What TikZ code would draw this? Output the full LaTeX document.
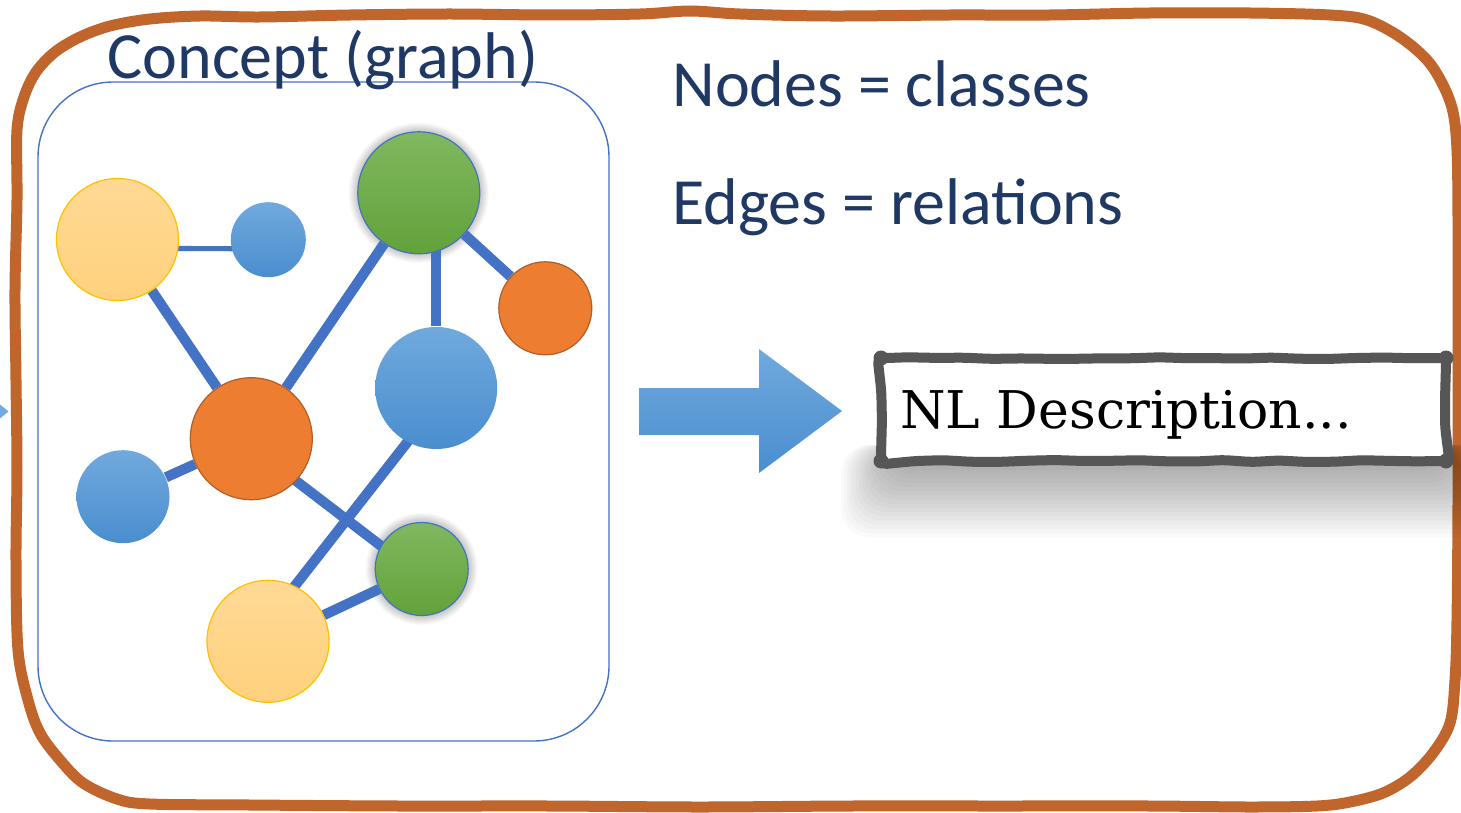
\documentclass[tikz,border=0pt]{standalone}
\usepackage{fontspec}
\usetikzlibrary{calc,decorations.pathmorphing}
\newfontfamily\labelfont{Carlito}
\newfontfamily\notefont{DejaVu Serif}

\definecolor{frameBrown}{HTML}{C0652B}
\definecolor{inkNavy}{HTML}{1F3864}
\definecolor{edgeBlue}{HTML}{4472C4}
\definecolor{blueTop}{HTML}{70A9DD}
\definecolor{blueBot}{HTML}{4A8ECF}
\definecolor{greenTop}{HTML}{80B85F}
\definecolor{greenBot}{HTML}{62A23A}
\definecolor{orangeFill}{HTML}{ED7D31}
\definecolor{orangeLine}{HTML}{B35E24}
\definecolor{yellowTop}{HTML}{FFD995}
\definecolor{yellowBot}{HTML}{FFD17D}
\definecolor{yellowLine}{HTML}{FFC000}
\definecolor{boxGray}{HTML}{565656}

\pgfdeclarelayer{canvas}
\pgfdeclarelayer{background}
\pgfsetlayers{canvas,background,main}

\tikzset{
  vtx/.style={circle, inner sep=0pt, line width=0.6pt},
  bigv/.style={minimum size=61pt},
  midv/.style={minimum size=46.5pt},
  smallv/.style={minimum size=37.5pt},
  yellowv/.style={vtx, draw=yellowLine, top color=yellowTop, bottom color=yellowBot},
  bluev/.style={vtx, top color=blueTop, bottom color=blueBot},
  greenv/.style={vtx, draw=edgeBlue, top color=greenTop, bottom color=greenBot},
  orangev/.style={vtx, draw=orangeLine, fill=orangeFill},
  link/.style={draw=edgeBlue, line width=5.1pt},
  thinlink/.style={draw=edgeBlue, line width=2.6pt},
  heading/.style={anchor=base west, inner sep=0pt, text=inkNavy,
    font=\labelfont\fontsize{33}{40}\selectfont},
  nlbox/.style={draw=boxGray, fill=white, line width=5pt, line join=round,
    minimum width=282.5pt, minimum height=51.5pt, inner sep=0pt,
    rounded corners=3pt, decorate,
    decoration={random steps, segment length=14pt, amplitude=0.5pt}},
  nltext/.style={anchor=base west, inner sep=0pt, text=black,
    font=\notefont\fontsize{26}{30}\selectfont}
}

\begin{document}
\begin{tikzpicture}[x=0.5pt, y=-0.5pt]
\pgfmathsetseed{7}
\useasboundingbox (0,0) rectangle (1461,813);
\begin{pgfonlayer}{canvas}
  \fill[white] (0,0) rectangle (1461,813);
\end{pgfonlayer}
\clip (0,0) rectangle (1461,813);

% hand-drawn outer frame
\draw[frameBrown, line width=5.5pt, line join=round]
  plot[smooth cycle, tension=0.55] coordinates {
   (17,200) (17,130) (24,97) (36,72) (55,52) (80,37) (110,26) (150,19) (200,16) (260,17)
   (350,15) (450,14) (550,15) (640,14) (690,11) (740,14) (830,16) (950,15) (1050,15)
   (1150,13) (1250,13) (1330,15)
   (1367,20) (1400,37) (1427,60) (1443,85) (1453,112) (1457,150) (1458,220)
   (1458,350) (1458,500) (1457,620) (1455,680)
   (1450,723) (1433,753) (1410,777) (1383,793) (1350,802) (1317,806) (1250,807)
   (1150,806) (1000,806) (850,806) (700,807) (550,806) (400,806) (250,805)
   (150,804) (117,799) (83,783) (60,760) (40,733) (28,700) (18,650)
   (16,560) (17,470) (16,380) (15,290)};

% tip of an incoming arrow at the left edge
\fill[blueTop] (0,404.5) -- (8.5,411.5) -- (0,418.5) -- cycle;

% graph frame and title
\draw[edgeBlue, line width=0.7pt, rounded corners=37.5pt] (38,82) rectangle (609,741);
\node[heading] (title) at (107,79) {Concept (graph)};

% vertices
\node[yellowv, bigv]  (y1) at (117.5,239.5) {};
\node[bluev,  smallv] (b1) at (268.3,239.7) {};
\node[greenv, bigv]   (g1) at (418.8,192.8) {};
\node[orangev, midv]  (o1) at (545.3,308.3) {};
\node[bluev,  bigv]   (b2) at (436.2,388) {};
\node[orangev, bigv]  (o2) at (251.3,438.7) {};
\node[bluev,  midv]   (b3) at (123,496.7) {};
\node[greenv, midv]   (g2) at (421.7,569) {};
\node[yellowv, bigv]  (y2) at (268,641.3) {};

% soft glow and edges behind the vertices
\begin{pgfonlayer}{background}
  \foreach \n/\r in {g1/61, g2/47}{
    \foreach \i in {1,...,9}{
      \fill[black, opacity=0.022] (\n) circle[radius={\r+\i}];
    }
  }
  \draw[thinlink] ($(y1)+(0,9)$) -- ($(b1)+(0,9)$);
  \draw[link] (y1) -- (o2);
  \draw[link] (o2) -- (g1);
  \draw[link] (b2) -- (b2 |- g1);
  \draw[link] (g1) -- (o1);
  \draw[link] (o2) -- (b3);
  \draw[link] ($(o2)+(0,8)$) -- ($(g2)+(0,8)$);
  \draw[link] ($(b2)+(13.5,0)$) -- ($(y2)+(-16.5,0)$);
  \draw[link] (y2) -- (g2);
\end{pgfonlayer}

% legend
\node[heading] (nodesLbl) at (672,107) {Nodes = classes};
\node[heading] (edgesLbl) at (672,224) {Edges = relations};

% block arrow
\shade[top color=blueTop, bottom color=blueBot]
  (639,388) -- (759,388) -- (759,349) -- (842,411) -- (759,473)
  -- (759,435) -- (639,435) -- cycle;

% blurred shadow under the description box
\foreach \i in {0,...,17}{
  \fill[black, opacity=0.02, rounded corners=14pt]
    ({892-3*\i},445) rectangle ({1446+3*\i},{466+4.2*\i});
}

% description box with knobbly corners
\node[nlbox] (nl) at (1163.5,409.5) {};
\foreach \a/\dx/\dy in {north west/5/5, north east/-5/5, south west/5/-5, south east/-5/-5}{
  \fill[boxGray] ($(nl.\a)+(\dx,\dy)$) circle[radius=7.5];
}
\node[nltext] (nlText) at (900,428) {NL Description...};
\end{tikzpicture}
\end{document}
